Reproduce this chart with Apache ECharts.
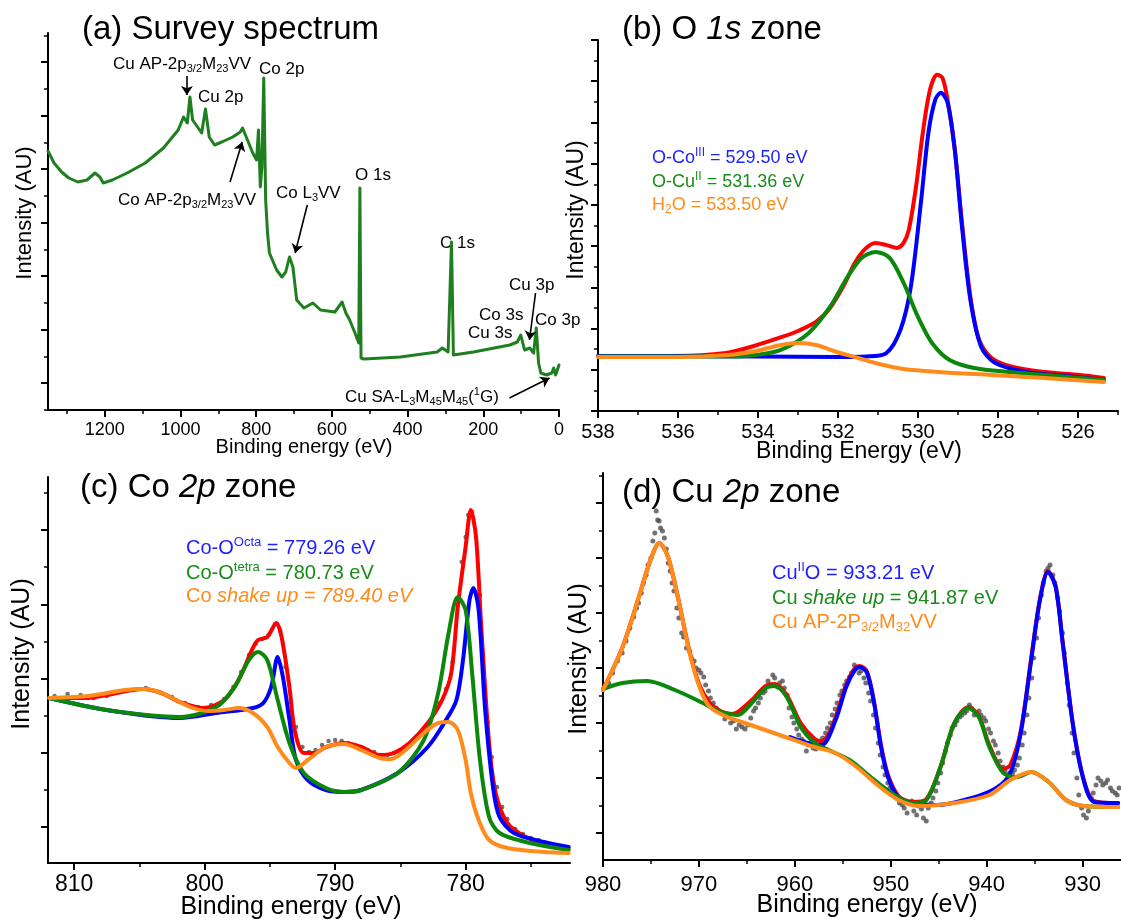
<!DOCTYPE html>
<html>
<head>
<meta charset="utf-8">
<title>XPS spectra</title>
<script src="https://cdn.jsdelivr.net/npm/echarts@6/dist/echarts.min.js"></script>
<style>
  html, body { margin: 0; padding: 0; background: #ffffff; }
  #chart { width: 1121px; height: 920px; }
</style>
</head>
<body>
<div id="chart"></div>
<script>
// --- data (binding energy in eV, intensity in arbitrary units) ---

// (a) survey spectrum
const surveyData = [
  [1350, 232], [1334, 220], [1314, 211], [1295, 205], [1271, 201], [1247, 203], [1226, 210], [1213, 206],
  [1204, 200], [1180, 203], [1141, 210], [1093, 220], [1045, 235], [1006, 253], [992, 266], [982, 260],
  [975, 286], [968, 263], [953, 255], [944, 250], [934, 274], [924, 246], [910, 238], [891, 241],
  [862, 246], [842, 251], [836, 255], [823, 243], [809, 230], [799, 223], [794, 253], [789, 196],
  [785, 216], [780, 305], [775, 183], [770, 150], [765, 130], [746, 113], [732, 106], [722, 111],
  [712, 126], [703, 116], [693, 83], [674, 75], [650, 80], [630, 73], [592, 71], [573, 81],
  [563, 70], [553, 63], [539, 50], [529, 40], [526, 195], [523, 25], [515, 24], [419, 26],
  [322, 31], [308, 35], [293, 31], [284, 141], [279, 28], [226, 31], [130, 38], [110, 41],
  [101, 48], [91, 33], [77, 35], [67, 30], [60, 55], [54, 20], [48, 10], [33, 8],
  [19, 10], [14, 15], [9, 8], [0, 18]
];
// arrows: [from BE, from I, to BE, to I]
const surveyArrows = [
  [983, 307, 983, 288],
  [869, 201, 837, 241],
  [665, 178, 697, 130],
  [62, 90, 78, 43],
  [131, -15, 25, 5]
];
const surveyTicks = [0, 200, 400, 600, 800, 1000, 1200];
const surveyMinor = [100, 300, 500, 700, 900, 1100, 1300];

// (b) O 1s
const o1sTotal = [
  [538, 55], [536.1, 55], [534.8, 58], [534.1, 65], [533.4, 74], [533.0, 80], [532.55, 89], [532.2, 103],
  [531.85, 126], [531.58, 148], [531.32, 162], [531.06, 168], [530.8, 166], [530.53, 163], [530.36, 168],
  [530.23, 181], [530.05, 224], [529.88, 278], [529.7, 321], [529.52, 336], [529.39, 333], [529.26, 311],
  [529.08, 261], [528.9, 188], [528.69, 114], [528.47, 71], [528.16, 53], [527.63, 44], [526.84, 39],
  [525.96, 36], [525.35, 33]
];
const o1sCo = [
  [538, 55], [536, 55], [534, 54.5], [532, 54], [531.3, 54.5], [530.8, 57.7], [530.44, 81], [530.18, 124],
  [529.92, 211], [529.74, 278], [529.57, 311], [529.43, 318], [529.26, 308], [529.08, 261], [528.9, 184],
  [528.69, 111], [528.42, 64], [528.07, 48], [527.28, 39], [526.3, 35], [525.35, 31]
];
const o1sCu = [
  [538, 54.5], [536, 54.5], [534.75, 54.5], [534.05, 56], [533.43, 61], [532.73, 78], [532.2, 104],
  [531.76, 134], [531.41, 153], [531.06, 159], [530.71, 153], [530.36, 128], [530.0, 94], [529.65, 68],
  [529.21, 51], [528.6, 43], [527.72, 39], [526.5, 35], [525.35, 31]
];
const o1sWater = [
  [538, 54], [536, 54], [534.75, 56], [534.05, 60], [533.43, 66], [532.99, 68], [532.55, 66], [532.03, 59],
  [531.5, 53], [530.97, 47], [530.36, 42], [529.48, 39], [528.16, 36], [526.84, 33], [525.35, 29]
];
const o1sTicks = [526, 528, 530, 532, 534, 536, 538];
const o1sMinor = [525, 527, 529, 531, 533, 535, 537];

// (c) Co 2p
const co2pPoints = [
  [811.5, 131], [810.5, 133], [809.5, 132], [808.5, 129], [807.5, 131], [806.5, 135], [805.5, 137], [804.5, 139],
  [803.5, 135], [802.5, 130], [801.5, 124], [800.5, 120], [799.5, 122], [798.5, 128], [797.8, 140], [797.2, 155],
  [796.6, 172], [796.1, 183], [795.6, 188], [795.1, 192], [794.6, 203], [794.2, 196], [793.8, 160], [793.4, 125],
  [793, 100], [792.5, 80], [792, 75], [791.5, 77], [791, 82], [790.5, 86], [790, 87], [789.5, 86],
  [789, 84], [788.5, 82], [788, 80], [787.5, 77], [787, 75], [786.5, 72], [786, 72], [785.5, 74],
  [785, 77], [784.5, 80], [784, 86], [783.5, 93], [783, 101], [782.5, 112], [782, 124], [781.5, 138],
  [781, 165], [780.6, 222], [780.3, 265], [780, 290], [779.8, 312], [779.5, 315], [779.2, 290], [778.9, 232],
  [778.6, 155], [778.3, 105], [778, 70], [777.6, 40], [777.2, 20], [776.8, 8], [776.2, -2], [775.6, -7],
  [775, -11], [774.4, -13], [773.8, -16], [773.2, -18], [772.5, -20]
];
const co2pTotal = [
  [811.9, 129], [808.9, 129], [807.5, 132], [804.7, 138], [803.3, 134], [801.9, 125], [800.1, 119], [798.5, 127],
  [797.4, 147], [796.3, 179], [795.9, 187], [795.2, 190], [794.5, 204], [794.1, 190], [793.5, 140], [793.1, 97],
  [792.4, 74], [791.6, 74], [790.7, 80], [789.3, 84], [788.0, 80], [786.6, 72], [785.5, 74], [784.3, 84],
  [782.9, 104], [781.8, 127], [781.1, 154], [780.6, 220], [780.0, 280], [779.6, 317], [779.2, 290], [778.8, 200],
  [778.2, 84], [777.7, 34], [776.8, 4], [775.4, -10], [774.0, -16], [772.1, -21]
];
const co2pOcta = [
  [811.9, 129], [807.5, 117], [801.9, 109], [799.1, 114], [796.3, 119], [795.5, 124], [794.9, 140], [794.4, 170],
  [794.0, 150], [793.5, 107], [793.0, 67], [792.1, 47], [790.7, 37], [789.3, 35], [788.0, 37], [785.2, 54],
  [782.9, 80], [781.5, 107], [780.7, 127], [780.2, 167], [779.7, 227], [779.4, 239], [779.0, 217], [778.5, 117],
  [777.9, 40], [777.4, 10], [776.3, -6], [774.0, -15], [772.1, -20]
];
const co2pTetra = [
  [811.9, 129], [807.5, 117], [801.9, 110], [799.1, 120], [797.7, 140], [796.6, 167], [795.9, 175], [795.2, 167],
  [794.4, 127], [793.5, 84], [792.4, 54], [790.7, 39], [789.3, 35], [788.0, 37], [785.2, 54], [783.2, 87],
  [782.1, 134], [781.3, 194], [780.6, 230], [780.0, 217], [779.5, 154], [778.9, 67], [778.2, 10], [777.4, -6],
  [775.4, -15], [772.1, -23]
];
const co2pShake = [
  [811.9, 129], [808.9, 131], [806.1, 137], [804.7, 138], [803.3, 134], [801.1, 120], [799.7, 116], [798.5, 117],
  [797.4, 119], [796.3, 114], [795.2, 100], [794.4, 80], [793.5, 64], [793.0, 59], [792.1, 67], [790.7, 80],
  [789.3, 83], [788.0, 77], [786.6, 69], [785.7, 68], [784.6, 77], [783.2, 94], [782.1, 104], [781.3, 105],
  [780.6, 97], [780.0, 67], [779.6, 34], [779.0, 7], [778.2, -13], [776.8, -21], [774.0, -25], [772.1, -26]
];
const co2pTicks = [780, 790, 800, 810];
const co2pMinor = [775, 785, 795, 805];

// (d) Cu 2p
const cu2pPoints = [
  [979.9, 145], [979, 160], [978, 180], [977.2, 205], [976.5, 225], [976, 240], [975.5, 258], [975, 275],
  [974.6, 300], [974.3, 313], [974, 305], [973.6, 295], [973.2, 270], [972.8, 250], [972.3, 225], [971.8, 200],
  [971.3, 185], [970.8, 175], [970.3, 165], [969.8, 160], [969.3, 148], [968.8, 135], [968.2, 125], [967.6, 120],
  [967, 118], [966.4, 112], [965.8, 108], [965.2, 104], [964.6, 115], [964.1, 125], [963.6, 135], [963.1, 142],
  [962.6, 148], [962.1, 155], [961.6, 150], [961.1, 145], [960.6, 125], [960.1, 110], [959.6, 98], [959.1, 92],
  [958.6, 88], [958.1, 85], [957.6, 88], [957.1, 95], [956.6, 105], [956.1, 118], [955.6, 130], [955.1, 142],
  [954.6, 152], [954.1, 160], [953.6, 165], [953.1, 162], [952.6, 150], [952.1, 132], [951.6, 105], [951.1, 78],
  [950.6, 58], [950.1, 45], [949.6, 40], [949.1, 30], [948.6, 25], [948.1, 30], [947.6, 22], [947.1, 27],
  [946.6, 15], [946.1, 25], [945.6, 35], [945.1, 50], [944.6, 70], [944.1, 90], [943.6, 105], [943.1, 112],
  [942.6, 118], [942.1, 122], [941.6, 125], [941.1, 120], [940.6, 118], [940.1, 112], [939.6, 100], [939.1, 88],
  [938.6, 72], [938.1, 62], [937.6, 60], [937.1, 63], [936.6, 75], [936.1, 100], [935.6, 135], [935.1, 175],
  [934.6, 215], [934.1, 250], [933.6, 265], [933.1, 258], [932.6, 235], [932.1, 200], [931.6, 150], [931.1, 100],
  [930.6, 55], [930.1, 25], [929.6, 15], [929.1, 35], [928.6, 48], [928.1, 52], [927.6, 50], [927.1, 45],
  [926.6, 40], [926.2, 45],
  // second, denser reading of the scatter cloud
  [979.4, 150], [978.5, 172], [977.6, 192], [976.8, 216], [976.3, 230], [975.8, 250], [975.3, 268], [974.8, 292],
  [974.45, 322], [974.15, 312], [973.8, 302], [973.4, 284], [973, 262], [972.6, 242], [972.1, 215], [971.6, 196],
  [971, 182], [970.5, 172], [970, 163], [969.5, 156], [969, 142], [968.5, 130], [967.9, 122], [967.3, 114],
  [966.7, 110], [966.1, 104], [965.5, 106], [964.9, 108], [964.3, 122], [963.8, 130], [963.3, 140], [962.8, 152],
  [962.3, 158], [961.8, 146], [961.3, 152], [960.8, 138], [960.3, 116], [959.8, 104], [959.3, 94], [958.8, 82],
  [958.3, 90], [957.8, 84], [957.3, 92], [956.8, 100], [956.3, 110], [955.8, 124], [955.3, 138], [954.8, 148],
  [954.3, 156], [953.8, 168], [953.3, 160], [952.8, 155], [952.3, 140], [951.8, 118], [951.3, 90], [950.8, 66],
  [950.3, 50], [949.8, 38], [949.3, 34], [948.8, 28], [948.3, 20], [947.8, 32], [947.3, 18], [946.8, 24],
  [946.3, 12], [945.8, 30], [945.3, 42], [944.8, 60], [944.3, 82], [943.8, 98], [943.3, 108], [942.8, 116],
  [942.3, 120], [941.8, 128], [941.3, 118], [940.8, 122], [940.3, 115], [939.8, 104], [939.3, 92], [938.8, 80],
  [938.3, 66], [937.8, 58], [937.3, 60], [936.8, 68], [936.3, 88], [935.8, 118], [935.3, 155], [934.8, 195],
  [934.3, 238], [933.8, 262], [933.4, 268], [932.9, 250], [932.4, 222], [931.9, 180], [931.4, 128], [930.9, 80],
  [930.4, 38], [929.9, 18], [929.4, 22], [928.9, 40], [928.4, 55], [927.9, 48], [927.4, 53], [926.9, 42],
  [926.4, 38]
];
const cu2pTotal = [
  [980, 143], [977.96, 186], [976.13, 240], [975.05, 273], [974.13, 290], [973.22, 276], [972.13, 233], [971.04, 184],
  [969.95, 148], [968.86, 130], [967.76, 122], [966.6, 119], [965.94, 121], [964.49, 133], [963.03, 147], [962.11, 149],
  [960.85, 138], [959.39, 110], [957.93, 94], [957.2, 92], [956.48, 99], [955.75, 116], [954.65, 148], [953.74, 165],
  [953.2, 167], [952.47, 161], [951.74, 131], [951.02, 88], [950.29, 58], [949.19, 37], [947.74, 31], [946.28, 34],
  [944.82, 66], [943.37, 110], [941.91, 126], [940.82, 117], [939.73, 88], [938.27, 64], [937.54, 68], [936.45, 102],
  [935.36, 175], [934.45, 234], [933.61, 262], [932.81, 247], [932.08, 191], [930.98, 107], [929.9, 54], [928.8, 32],
  [926.3, 30]
];
const cu2pCuO = [
  [960.5, 96], [958.66, 90], [957.2, 88], [955.75, 113], [954.65, 146], [953.74, 163], [953.2, 166], [952.47, 160],
  [951.74, 130], [951.02, 86], [950.29, 56], [949.19, 35], [947.74, 30], [945.19, 28], [941.54, 35], [939.0, 45],
  [937.54, 60], [936.45, 100], [935.36, 173], [934.45, 233], [933.61, 261], [932.81, 246], [932.08, 190], [930.98, 106],
  [929.9, 53], [928.8, 31], [926.3, 30]
];
const cu2pShake = [
  [980, 144], [977.96, 150], [975.41, 152], [972.5, 143], [969.59, 130], [967.76, 121], [965.94, 118], [964.49, 130],
  [963.03, 145], [962.11, 147], [960.85, 136], [959.39, 106], [957.93, 90], [956.48, 83], [954.29, 73], [952.1, 56],
  [949.92, 40], [947.74, 30], [946.28, 33], [944.82, 66], [943.37, 110], [941.91, 125], [940.82, 116], [939.73, 86],
  [938.27, 60], [936.81, 56], [935.36, 61], [933.53, 51], [931.72, 33], [929.9, 27], [926.3, 26]
];
const cu2pAuger = [
  [980, 143], [977.96, 186], [976.13, 240], [975.05, 273], [974.13, 290], [973.22, 276], [972.13, 233], [971.04, 183],
  [969.95, 146], [968.86, 126], [967.04, 116], [965.21, 110], [961.58, 98], [957.93, 86], [955.75, 80], [953.56, 66],
  [951.38, 48], [949.19, 33], [947.0, 27], [943.37, 30], [939.73, 38], [937.54, 53], [935.36, 61], [933.53, 51],
  [931.72, 33], [929.9, 27], [926.3, 26]
];
const cu2pTicks = [930, 940, 950, 960, 970, 980];
const cu2pMinor = [935, 945, 955, 965, 975];

// --- styling ---
const FONT = '"Liberation Sans", Arial, Helvetica, sans-serif';
const RED = '#ff0000';
const BLUE = '#0000ff';
const GREEN = '#0b870b';
const ORANGE = '#ff8c1a';
const SURVEY = '#1f7f1f';
const DOTS = '#4f4f4f';
const TXT_BLUE = '#1f1fff';
const TXT_GREEN = '#1a8c1a';

// evenly spaced tick positions on the (label-less) intensity axes
function steps(start, step, count) {
  const out = [];
  for (let k = 0; k < count; k++) out.push(+(start + k * step).toFixed(3));
  return out;
}

const panels = [
  { x: [0, 1350], y: [-27, 350], xMajor: surveyTicks, xMinor: surveyMinor, yMajor: steps(0, 53.5, 7), yMinor: steps(-26.75, 53.5, 8), label: 18, margin: 11 },
  { x: [525, 538], y: [0, 370.8], xMajor: o1sTicks, xMinor: o1sMinor, yMajor: steps(0, 41.2, 10), yMinor: steps(20.6, 41.2, 9), label: 20, margin: 11 },
  { x: [772, 812], y: [-36, 350], xMajor: co2pTicks, xMinor: co2pMinor, yMajor: steps(0, 74.25, 5), yMinor: steps(37.125, 74.25, 5), label: 23, margin: 10 },
  { x: [926, 980], y: [-27, 360], xMajor: cu2pTicks, xMinor: cu2pMinor, yMajor: steps(0, 55, 7), yMinor: steps(27.5, 55, 7), label: 22, margin: 14 }
];

const AXIS_LINE = { show: true, onZero: false, lineStyle: { color: '#000', width: 2 } };

function xMain(i, p) {
  return {
    type: 'value', gridIndex: i, min: p.x[0], max: p.x[1], inverse: true, position: 'bottom',
    axisLine: AXIS_LINE,
    axisTick: { show: true, inside: false, length: 7, customValues: p.xMajor, lineStyle: { color: '#000', width: 2 } },
    axisLabel: { color: '#000', fontSize: p.label, fontFamily: FONT, margin: p.margin, customValues: p.xMajor, formatter: v => String(v) },
    splitLine: { show: false }
  };
}
function xMinorAxis(i, p) {
  return {
    type: 'value', gridIndex: i, min: p.x[0], max: p.x[1], inverse: true, position: 'bottom', offset: 0,
    axisLine: { show: false, onZero: false },
    axisTick: { show: true, inside: false, length: 4, customValues: p.xMinor, lineStyle: { color: '#000', width: 1.5 } },
    axisLabel: { show: false },
    splitLine: { show: false }
  };
}
function yMain(i, p) {
  return {
    type: 'value', gridIndex: i, min: p.y[0], max: p.y[1], position: 'left',
    axisLine: AXIS_LINE,
    axisTick: { show: true, inside: false, length: 7, customValues: p.yMajor, lineStyle: { color: '#000', width: 2 } },
    axisLabel: { show: false },
    splitLine: { show: false }
  };
}
function yMinorAxis(i, p) {
  return {
    type: 'value', gridIndex: i, min: p.y[0], max: p.y[1], position: 'left', offset: 0,
    axisLine: { show: false, onZero: false },
    axisTick: { show: true, inside: false, length: 4, customValues: p.yMinor, lineStyle: { color: '#000', width: 1.5 } },
    axisLabel: { show: false },
    splitLine: { show: false }
  };
}

function curve(i, data, color, width, smooth) {
  return {
    type: 'line', xAxisIndex: i, yAxisIndex: i, data,
    symbol: 'none', showSymbol: false, smooth,
    lineStyle: { color, width, cap: 'round', join: 'round' },
    silent: true, animation: false
  };
}

function dots(i, data, size) {
  return {
    type: 'scatter', xAxisIndex: i, yAxisIndex: i, data,
    symbol: 'circle', symbolSize: size, itemStyle: { color: DOTS },
    silent: true, animation: false
  };
}

function richSet(size, color) {
  const small = Math.round(size * 0.65);
  const base = { fontFamily: FONT, fill: color };
  return {
    n: Object.assign({ fontSize: size, lineHeight: size + 4 }, base),
    i: Object.assign({ fontSize: size, fontStyle: 'italic', lineHeight: size + 4 }, base),
    sup: Object.assign({ fontSize: small, lineHeight: small, verticalAlign: 'top' }, base),
    sub: Object.assign({ fontSize: small, lineHeight: small, verticalAlign: 'bottom' }, base)
  };
}

function text(x, y, str, size, color, align, rotation) {
  return {
    type: 'text', x, y, rotation: rotation || 0, silent: true,
    style: {
      text: str, rich: richSet(size, color), fill: color, fontSize: size, fontFamily: FONT,
      align: align || 'left', verticalAlign: 'middle'
    }
  };
}

const surveySeries = curve(0, surveyData, SURVEY, 3, false);
surveySeries.markLine = {
  silent: true, animation: false,
  symbol: ['none', 'arrow'], symbolSize: 9,
  label: { show: false },
  lineStyle: { color: '#000', width: 1.6, type: 'solid' },
  data: surveyArrows.map(a => [{ coord: [a[0], a[1]] }, { coord: [a[2], a[3]] }])
};

const graphics = [
  // panel titles
  text(82, 30, '{n|(a) Survey spectrum}', 33, '#000'),
  text(622, 30, '{n|(b) O }{i|1s}{n| zone}', 33, '#000'),
  text(80, 488, '{n|(c) Co }{i|2p}{n| zone}', 33, '#000'),
  text(622, 493, '{n|(d) Cu }{i|2p}{n| zone}', 33, '#000'),
  // axis titles
  text(304, 447, '{n|Binding energy (eV)}', 20, '#000', 'center'),
  text(859, 452, '{n|Binding Energy (eV)}', 23, '#000', 'center'),
  text(291, 907, '{n|Binding energy (eV)}', 25, '#000', 'center'),
  text(867, 905, '{n|Binding energy (eV)}', 25, '#000', 'center'),
  text(25, 213, '{n|Intensity (AU)}', 22, '#000', 'center', Math.PI / 2),
  text(577, 210, '{n|Intensity (AU)}', 23, '#000', 'center', Math.PI / 2),
  text(22, 654, '{n|Intensity (AU)}', 25, '#000', 'center', Math.PI / 2),
  text(579, 659, '{n|Intensity (AU)}', 25, '#000', 'center', Math.PI / 2),
  // survey peak labels
  text(113, 64, '{n|Cu AP-2p}{sub|3/2}{n|M}{sub|23}{n|VV}', 17, '#000'),
  text(198, 97, '{n|Cu 2p}', 17, '#000'),
  text(259, 69, '{n|Co 2p}', 17, '#000'),
  text(118, 200, '{n|Co AP-2p}{sub|3/2}{n|M}{sub|23}{n|VV}', 17, '#000'),
  text(276, 193, '{n|Co L}{sub|3}{n|VV}', 17, '#000'),
  text(355, 175, '{n|O 1s}', 17, '#000'),
  text(440, 243, '{n|C 1s}', 17, '#000'),
  text(509, 285, '{n|Cu 3p}', 17, '#000'),
  text(479, 315, '{n|Co 3s}', 17, '#000'),
  text(535, 320, '{n|Co 3p}', 17, '#000'),
  text(468, 333, '{n|Cu 3s}', 17, '#000'),
  text(345, 397, '{n|Cu SA-L}{sub|3}{n|M}{sub|45}{n|M}{sub|45}{n|(}{sup|1}{n|G)}', 17, '#000'),
  // O 1s legend
  text(652, 158, '{n|O-Co}{sup|III}{n| = 529.50 eV}', 18, TXT_BLUE),
  text(652, 182, '{n|O-Cu}{sup|II}{n| = 531.36 eV}', 18, TXT_GREEN),
  text(652, 205, '{n|H}{sub|2}{n|O = 533.50 eV}', 18, ORANGE),
  // Co 2p legend
  text(186, 548, '{n|Co-O}{sup|Octa}{n| = 779.26 eV}', 20, TXT_BLUE),
  text(186, 573, '{n|Co-O}{sup|tetra}{n| = 780.73 eV}', 20, TXT_GREEN),
  text(186, 596, '{n|Co }{i|shake up = 789.40 eV}', 20, ORANGE),
  // Cu 2p legend
  text(772, 573, '{n|Cu}{sup|II}{n|O = 933.21 eV}', 20, TXT_BLUE),
  text(772, 598, '{n|Cu }{i|shake up}{n| = 941.87 eV}', 20, TXT_GREEN),
  text(772, 622, '{n|Cu AP-2P}{sub|3/2}{n|M}{sub|32}{n|VV}', 20, ORANGE)
];

const chart = echarts.init(document.getElementById('chart'), null, { renderer: 'canvas' });
chart.setOption({
  animation: false,
  backgroundColor: '#ffffff',
  grid: [
    { left: 48, top: 33, width: 511, height: 377, outerBoundsMode: 'none' },
    { left: 598, top: 40, width: 520, height: 371, outerBoundsMode: 'none' },
    { left: 48, top: 477, width: 522, height: 386, outerBoundsMode: 'none' },
    { left: 603, top: 473, width: 518, height: 387, outerBoundsMode: 'none' }
  ],
  // axes 0-3 carry the scales, labels and major ticks; axes 4-7 only draw the minor ticks
  xAxis: panels.map((p, i) => xMain(i, p)).concat(panels.map((p, i) => xMinorAxis(i, p))),
  yAxis: panels.map((p, i) => yMain(i, p)).concat(panels.map((p, i) => yMinorAxis(i, p))),
  series: [
    surveySeries,
    curve(1, o1sTotal, RED, 4, 0.3),
    curve(1, o1sCo, BLUE, 4, 0.3),
    curve(1, o1sCu, GREEN, 4, 0.3),
    curve(1, o1sWater, ORANGE, 4, 0.3),
    dots(2, co2pPoints, 4.5),
    curve(2, co2pTotal, RED, 4, 0.3),
    curve(2, co2pOcta, BLUE, 4, 0.3),
    curve(2, co2pTetra, GREEN, 4, 0.3),
    curve(2, co2pShake, ORANGE, 4, 0.3),
    dots(3, cu2pPoints, 5),
    curve(3, cu2pTotal, RED, 4, 0.3),
    curve(3, cu2pCuO, BLUE, 4, 0.3),
    curve(3, cu2pShake, GREEN, 4, 0.3),
    curve(3, cu2pAuger, ORANGE, 4, 0.3)
  ],
  graphic: { elements: graphics }
});
</script>
</body>
</html>
